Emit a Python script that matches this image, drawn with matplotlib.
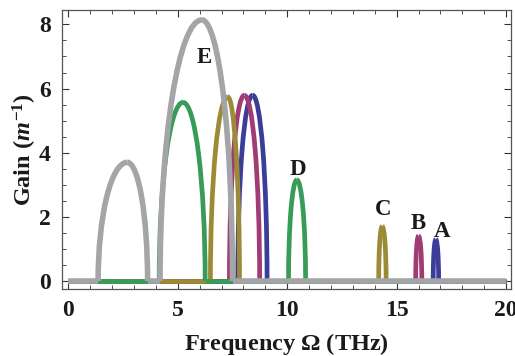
import matplotlib
matplotlib.use("Agg")
from matplotlib import pyplot as plt
from matplotlib.patches import Arc
from matplotlib.ticker import MultipleLocator

# Gain lobes per series: (start, peak position, peak gain, end)
lobes_A = [(7.74, 8.42, 5.79, 9.08), (16.67, 16.79, 1.29, 16.92)]
lobes_B = [(7.36, 8.04, 5.79, 8.74), (15.87, 16.00, 1.40, 16.15)]
lobes_C = [(6.49, 7.28, 5.74, 7.82), (14.18, 14.34, 1.70, 14.52)]
lobes_D = [(4.15, 5.24, 5.57, 6.25), (10.06, 10.44, 3.15, 10.84)]
lobes_E = [(1.36, 2.69, 3.70, 3.62), (4.19, 6.10, 8.14, 7.50)]

series_names = ["A", "B", "C", "D", "E"]
series_lobes = [lobes_A, lobes_B, lobes_C, lobes_D, lobes_E]
series_colors = ["#3c3c99", "#a03b73", "#9b8b37", "#389b58", "#a4a5a8"]
series_widths = [3.4, 3.4, 3.4, 3.4, 4.0]

# letter positions (baseline)
label_x = [17.06, 15.99, 14.36, 10.50, 6.22]
label_y = [1.37, 1.62, 2.06, 3.30, 6.79]

freq_min, freq_max = 0, 20

plt.rcParams['font.family'] = ['Liberation Serif']
plt.rcParams['font.weight'] = 'bold'
plt.rcParams['mathtext.fontset'] = 'custom'
plt.rcParams['mathtext.rm'] = 'Liberation Serif:bold'
plt.rcParams['mathtext.it'] = 'Liberation Serif:italic:bold'

fig = plt.figure(figsize=(5.15, 3.56), dpi=100)
ax = fig.add_axes([0.120, 0.188, 0.872, 0.784])

for z, (lobes, color, lw) in enumerate(zip(series_lobes, series_colors, series_widths)):
    # zero-gain stretches outside the lobes
    edges = [freq_min]
    for start, px, peak, end in lobes:
        edges += [start, end]
    edges.append(freq_max)
    for i in range(0, len(edges), 2):
        ax.plot([edges[i], edges[i + 1]], [0, 0], color=color, lw=lw,
                solid_capstyle='butt', zorder=2 + z)
    # each lobe as two quarter ellipses meeting at the peak
    for start, px, peak, end in lobes:
        left = Arc((px, 0), 2 * (px - start), 2 * peak, theta1=90, theta2=180,
                   color=color, lw=lw, zorder=2 + z)
        right = Arc((px, 0), 2 * (end - px), 2 * peak, theta1=0, theta2=90,
                    color=color, lw=lw, zorder=2 + z)
        ax.add_patch(left)
        ax.add_patch(right)

for name, x, y in zip(series_names, label_x, label_y):
    ax.text(x, y, name, ha='center', va='baseline', fontsize=16.5,
            fontweight='bold', color='#1a1a1a', zorder=10)

ax.set_xlim(-0.3, 20.22)
ax.set_ylim(-0.25, 8.45)
ax.xaxis.set_major_locator(MultipleLocator(5))
ax.xaxis.set_minor_locator(MultipleLocator(1))
ax.yaxis.set_major_locator(MultipleLocator(2))
ax.yaxis.set_minor_locator(MultipleLocator(0.5))
ax.tick_params(which='both', direction='in', top=True, right=True,
               labelsize=17, colors='#333333', labelcolor='#1a1a1a', pad=8)
ax.tick_params(which='major', length=5, width=0.8)
ax.tick_params(which='minor', length=3, width=0.6)
for sp in ax.spines.values():
    sp.set_color('#555555')
    sp.set_linewidth(0.9)

ax.set_xlabel(r"Frequency $\Omega$ (THz)", fontsize=17.5, fontweight='bold',
              color='#1a1a1a', labelpad=7)
ax.set_ylabel(r"Gain ($m^{-1}$)", fontsize=17.5, fontweight='bold',
              color='#1a1a1a', labelpad=0)

fig.savefig("out.png", dpi=100)
